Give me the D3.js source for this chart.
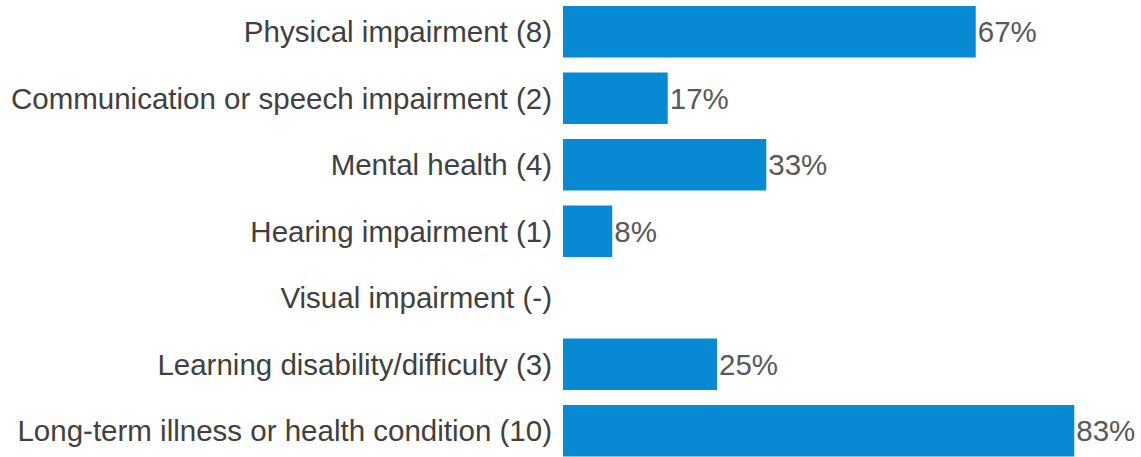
<!DOCTYPE html>
<html>
<head>
<meta charset="utf-8">
<script src="https://cdn.jsdelivr.net/npm/d3@7"></script>
<style>
  html, body { margin: 0; padding: 0; background: #ffffff; }
  svg { display: block; }
</style>
</head>
<body>
<svg id="chart" width="1141" height="457"></svg>
<script>
// Disability categories (respondent counts in brackets) and share of respondents
const categories = [
  "Physical impairment (8)",
  "Communication or speech impairment (2)",
  "Mental health (4)",
  "Hearing impairment (1)",
  "Visual impairment (-)",
  "Learning disability/difficulty (3)",
  "Long-term illness or health condition (10)"
];
const percentages = [67, 17, 33, 8, 0, 25, 83];
const valueLabels = ["67%", "17%", "33%", "8%", "", "25%", "83%"];

const width = 1141, height = 457;
const left = 563;

const svg = d3.select("#chart");

const rows = categories.map((c, i) => ({ category: c, value: percentages[i], label: valueLabels[i] }));

const x = d3.scaleLinear().domain([0, 100]).range([left, left + 616]);
const y = d3.scaleBand()
  .domain(categories)
  .range([-1.5, 464])
  .paddingInner(0.2256)
  .paddingOuter(0.1128);

const font = "'Liberation Sans', Arial, sans-serif";
const fontSize = 29.5;

// Bars
svg.append("g")
  .selectAll("rect")
  .data(rows.filter(d => d.value > 0))
  .join("rect")
  .attr("x", x(0))
  .attr("y", d => y(d.category))
  .attr("width", d => x(d.value) - x(0))
  .attr("height", y.bandwidth())
  .attr("fill", "#0789d4");

// Category labels on the left
svg.append("g")
  .selectAll("text")
  .data(rows)
  .join("text")
  .attr("x", x(0) - 11)
  .attr("y", d => y(d.category) + y.bandwidth() / 2)
  .attr("dy", "0.35em")
  .attr("text-anchor", "end")
  .attr("font-family", font)
  .attr("font-size", fontSize)
  .attr("fill", "#404040")
  .text(d => d.category);

// Value labels at bar ends
svg.append("g")
  .selectAll("text")
  .data(rows.filter(d => d.label))
  .join("text")
  .attr("x", d => x(d.value) + 2)
  .attr("y", d => y(d.category) + y.bandwidth() / 2)
  .attr("dy", "0.35em")
  .attr("font-family", font)
  .attr("font-size", fontSize)
  .attr("fill", "#595959")
  .text(d => d.label);
</script>
</body>
</html>
